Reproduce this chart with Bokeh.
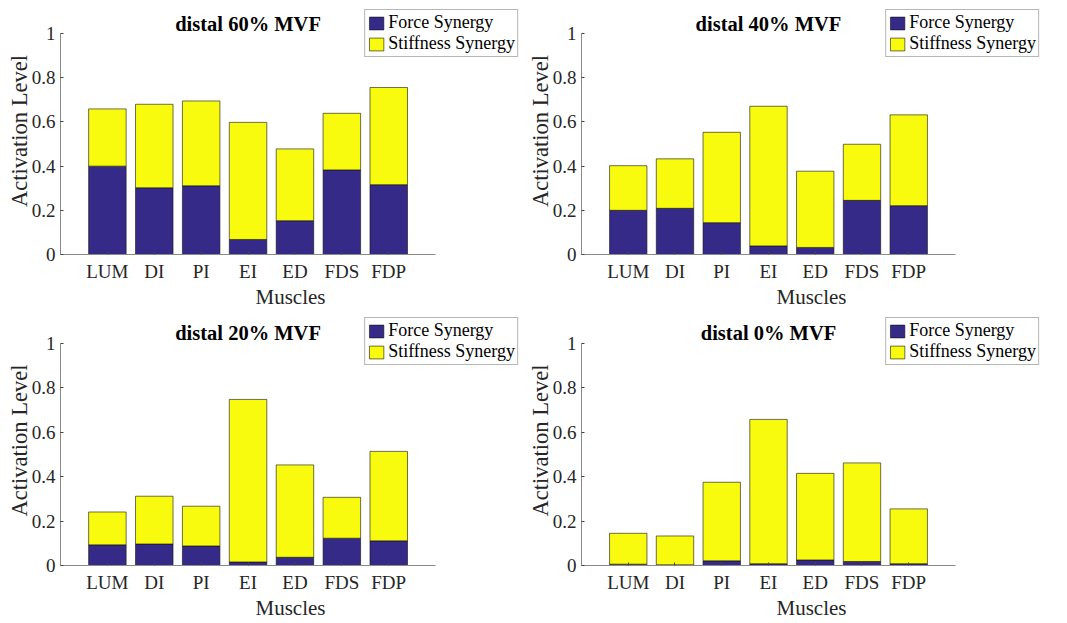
from bokeh.plotting import figure
from bokeh.layouts import gridplot
from bokeh.models import ColumnDataSource, Legend, LegendItem, FixedTicker, Label
from bokeh.embed import file_html
from bokeh.resources import INLINE

muscles = ["LUM", "DI", "PI", "EI", "ED", "FDS", "FDP"]
titles = ["distal 60% MVF", "distal 40% MVF", "distal 20% MVF", "distal 0% MVF"]

force_60 = [0.400, 0.302, 0.311, 0.068, 0.153, 0.383, 0.316]
stiff_60 = [0.259, 0.378, 0.384, 0.530, 0.325, 0.256, 0.440]
force_40 = [0.200, 0.209, 0.144, 0.039, 0.032, 0.245, 0.221]
stiff_40 = [0.202, 0.224, 0.409, 0.632, 0.345, 0.254, 0.411]
force_20 = [0.093, 0.097, 0.088, 0.016, 0.037, 0.123, 0.111]
stiff_20 = [0.148, 0.215, 0.179, 0.732, 0.416, 0.184, 0.403]
force_0 = [0.006, 0.003, 0.021, 0.008, 0.025, 0.018, 0.008]
stiff_0 = [0.139, 0.130, 0.354, 0.650, 0.390, 0.444, 0.247]

forces = [force_60, force_40, force_20, force_0]
stiffs = [stiff_60, stiff_40, stiff_20, stiff_0]

BLUE = "#352A87"
YELLOW = "#F9FB0E"
TXT = "#262626"
FONT = "Liberation Serif"

# [width, height, border_left, border_right, border_top, border_bottom, x_end, y_end]
layout = [
    (522, 311, 60, 2, 7, 57, 9.81, 1.118),
    (545, 311, 59, 26, 7, 57, 9.84, 1.118),
    (522, 311, 60, 2, 4, 57, 9.81, 1.126),
    (545, 311, 59, 26, 4, 57, 9.84, 1.126),
]

plots = []
for k in range(4):
    w, h, bl, br, bt, bb, xe, ye = layout[k]
    x = list(range(1, 8))
    f = forces[k]
    s = stiffs[k]
    top = [a + b for a, b in zip(f, s)]
    src = ColumnDataSource(dict(x=x, f=f, s=s, top=top))
    p = figure(width=w, height=h, x_range=(0, xe), y_range=(0, ye),
               output_backend="svg", toolbar_location=None,
               min_border_left=bl, min_border_right=br,
               min_border_top=bt, min_border_bottom=bb)
    r1 = p.vbar(x="x", bottom=0, top="f", width=0.8, source=src,
                fill_color=BLUE, line_color="#111111", line_width=0.6)
    r2 = p.vbar(x="x", bottom="f", top="top", width=0.8, source=src,
                fill_color=YELLOW, line_color="#111111", line_width=0.6)
    p.outline_line_color = None
    p.grid.visible = False
    p.background_fill_color = "white"
    p.border_fill_color = "white"

    p.add_layout(Label(x=4, y=1.045, text=titles[k], text_align="center",
                       text_baseline="alphabetic", text_font=FONT,
                       text_font_style="bold", text_font_size="20.5px",
                       text_color="black"))

    p.xaxis.ticker = FixedTicker(ticks=x)
    p.xaxis.major_label_overrides = {i + 1: m for i, m in enumerate(muscles)}
    p.yaxis.ticker = FixedTicker(ticks=[0, 0.2, 0.4, 0.6, 0.8, 1.0])
    p.yaxis.major_label_overrides = {0: "0", 0.2: "0.2", 0.4: "0.4", 0.6: "0.6", 0.8: "0.8", 1.0: "1"}
    p.xaxis.bounds = (0, 8)
    p.yaxis.bounds = (0, 1)
    p.xaxis.axis_label = "Muscles"
    p.yaxis.axis_label = "Activation Level"
    for ax in (p.xaxis, p.yaxis):
        ax.axis_line_color = "#8a8a8a"
        ax.axis_line_width = 1
        ax.major_tick_line_color = "#444444"
        ax.major_tick_in = 3
        ax.major_tick_out = 0
        ax.minor_tick_line_color = None
        ax.major_label_text_font = FONT
        ax.major_label_text_font_size = "19px"
        ax.major_label_text_color = TXT
        ax.axis_label_text_font = FONT
        ax.axis_label_text_font_style = "normal"
        ax.axis_label_text_color = TXT
    p.xaxis.axis_label_text_font_size = "21px"
    p.yaxis.axis_label_text_font_size = "22.5px"
    p.yaxis.major_label_standoff = 5
    p.yaxis.axis_label_standoff = -3
    p.xaxis.major_label_standoff = 6
    p.xaxis.axis_label_standoff = 0

    legend = Legend(items=[LegendItem(label="Force Synergy", renderers=[r1]),
                           LegendItem(label="Stiffness Synergy", renderers=[r2])],
                    location="top_right")
    legend.label_text_font = FONT
    legend.label_text_font_size = "18px"
    legend.label_text_color = "black"
    legend.glyph_width = 18
    legend.glyph_height = 16
    legend.label_height = 16
    legend.label_standoff = 3
    legend.spacing = 0
    legend.padding = 2
    legend.margin = 2
    legend.border_line_color = "#6e6e6e"
    legend.border_line_width = 1
    legend.background_fill_color = "white"
    legend.background_fill_alpha = 1
    p.add_layout(legend, "center")
    plots.append(p)

grid = gridplot([[plots[0], plots[1]], [plots[2], plots[3]]], toolbar_location=None)
open("out.html", "w").write(file_html(grid, INLINE))
